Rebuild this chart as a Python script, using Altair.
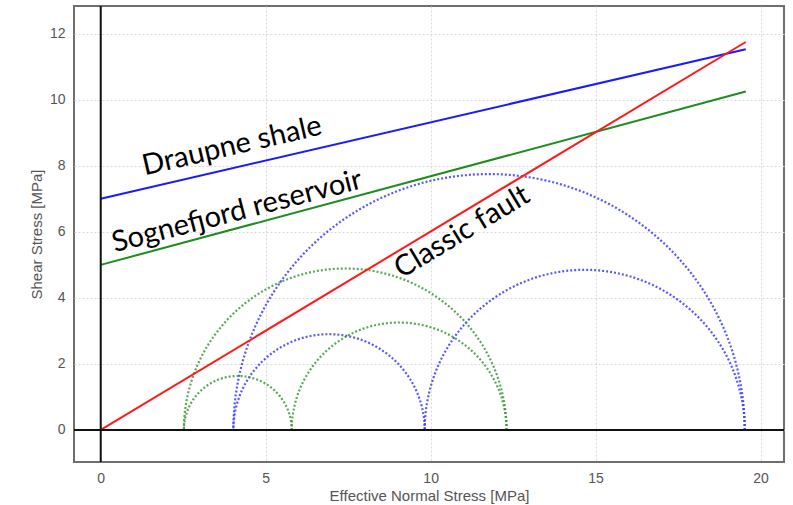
import altair as alt
import numpy as np
import pandas as pd

# Failure envelopes (straight lines): x endpoints and y values
env_names = ["Draupne shale", "Sognefjord reservoir", "Classic fault"]
env_x0 = [0.0, 0.0, 0.0]
env_x1 = [19.55, 19.55, 19.55]
env_y0 = [7.0, 5.0, 0.0]
env_y1 = [11.53, 10.25, 11.75]
env_colors = ["#1a1aff", "#1e8c1e", "#ff1a1a"]

# Mohr circles: principal stresses (sigma3, sigma2, sigma1)
blue_sigmas = [4.02, 9.82, 19.52]
green_sigmas = [2.52, 5.79, 12.3]
circle_colors = ["#3b3bff", "#3d963d"]

# Annotations
lab_text = ["Draupne shale", "Sognefjord reservoir", "Classic fault"]
lab_x = [3.98, 4.13, 10.95]
lab_y = [8.6, 6.62, 6.0]
lab_angle = [347, 345.5, 329]

x_ticks = [0, 5, 10, 15, 20]
y_ticks = [0, 2, 4, 6, 8, 10, 12]
x_domain = [-0.81, 20.71]
y_domain = [-0.97, 12.84]

# Build line table
rows = []
for i, n in enumerate(env_names):
    rows.append({"id": n, "x": env_x0[i], "y": env_y0[i], "c": env_colors[i], "o": 0})
    rows.append({"id": n, "x": env_x1[i], "y": env_y1[i], "c": env_colors[i], "o": 1})
lines_df = pd.DataFrame(rows)

# Build semicircles from the principal stresses
theta = np.linspace(0, np.pi, 181)
crow = []
for cname, sig, col in [("b", blue_sigmas, circle_colors[0]), ("g", green_sigmas, circle_colors[1])]:
    pairs = [(sig[0], sig[2]), (sig[0], sig[1]), (sig[1], sig[2])]
    for k, (a, b) in enumerate(pairs):
        c = (a + b) / 2
        r = (b - a) / 2
        for j, t in enumerate(theta):
            crow.append({"id": f"{cname}{k}", "x": c + r * np.cos(t), "y": r * np.sin(t), "c": col, "o": j})
circ_df = pd.DataFrame(crow)

lab_df = pd.DataFrame({"t": lab_text, "x": lab_x, "y": lab_y, "a": lab_angle})

xs = alt.Scale(domain=x_domain, nice=False, zero=False)
ys = alt.Scale(domain=y_domain, nice=False, zero=False)

xaxis = alt.Axis(values=x_ticks, title="Effective Normal Stress [MPa]", grid=True,
                 gridColor="#d8d8d8", gridDash=[2, 2], gridWidth=1, ticks=False, domain=False,
                 labelFont="Liberation Sans", labelFontSize=14, labelColor="#555555", labelPadding=9,
                 titleFont="Liberation Sans", titleFontSize=15, titleColor="#555555",
                 titleFontWeight="normal", titlePadding=3)
yaxis = alt.Axis(values=y_ticks, title="Shear Stress [MPa]", grid=True,
                 gridColor="#d8d8d8", gridDash=[2, 2], gridWidth=1, ticks=False, domain=False,
                 labelFont="Liberation Sans", labelFontSize=14, labelColor="#555555", labelPadding=9,
                 titleFont="Liberation Sans", titleFontSize=15, titleColor="#555555",
                 titleFontWeight="normal", titlePadding=5)

circles = alt.Chart(circ_df).mark_line(strokeWidth=2.2, strokeDash=[2, 2], opacity=0.85, clip=True).encode(
    x=alt.X("x:Q", scale=xs, axis=xaxis),
    y=alt.Y("y:Q", scale=ys, axis=yaxis),
    detail="id:N",
    order="o:Q",
    color=alt.Color("c:N", scale=None),
)

lines = alt.Chart(lines_df).mark_line(strokeWidth=2, clip=True).encode(
    x=alt.X("x:Q", scale=xs),
    y=alt.Y("y:Q", scale=ys),
    detail="id:N",
    order="o:Q",
    color=alt.Color("c:N", scale=None),
)

zero_df = pd.DataFrame({"v": [0]})
vrule = alt.Chart(zero_df).mark_rule(color="#111111", strokeWidth=2).encode(x=alt.X("v:Q", scale=xs))
hrule = alt.Chart(zero_df).mark_rule(color="#111111", strokeWidth=2).encode(y=alt.Y("v:Q", scale=ys))

labels = alt.Chart(lab_df).mark_text(font="Lato", fontSize=29, color="black", align="center",
                                     baseline="middle").encode(
    x=alt.X("x:Q", scale=xs),
    y=alt.Y("y:Q", scale=ys),
    text="t:N",
    angle=alt.Angle("a:Q", scale=None),
)

chart = alt.layer(circles, lines, vrule, hrule, labels).properties(
    width=710, height=456,
    autosize=alt.AutoSizeParams(type="none"),
    padding={"left": 74, "top": 6, "right": 9, "bottom": 43},
    background="white",
).configure_view(stroke="#6e6e6e", strokeWidth=2)

chart.save("out.html", embed_options={"renderer": "svg", "actions": False})
